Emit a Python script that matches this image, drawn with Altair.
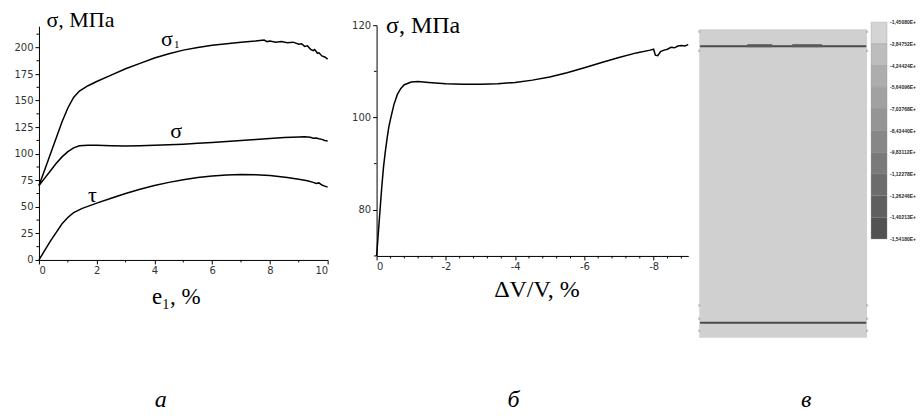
import altair as alt
import pandas as pd

# ---------------- panel a: sigma_1, sigma, tau vs e1 ----------------
s1_e = [0, 0.2, 0.4, 0.6, 0.8, 1.0, 1.2, 1.4, 1.7, 2.0, 2.5, 3.0, 3.5, 4.0, 4.5, 5.0, 5.5,
        6.0, 6.5, 7.0, 7.5, 7.8, 7.9, 8.0, 8.2, 8.4, 8.6, 8.8, 9.0, 9.1, 9.2, 9.3, 9.4,
        9.5, 9.55, 9.65, 9.7, 9.8, 9.9, 10.0]
s1_v = [70, 85, 100, 115, 130, 143, 153, 159, 164, 168, 174, 180, 185, 190, 194, 197.5, 200,
        202, 203.5, 205, 206, 207, 205.5, 206, 205, 205.5, 204.5, 205, 203, 203.5, 201, 201.5,
        198.5, 197, 198, 194.5, 195, 192, 191, 189]

sg_e = [0, 0.2, 0.4, 0.6, 0.8, 1.0, 1.2, 1.4, 1.7, 2.0, 2.5, 3.0, 3.5, 4.0, 4.5, 5.0, 5.5,
        6.0, 6.5, 7.0, 7.5, 8.0, 8.5, 9.0, 9.2, 9.4, 9.5, 9.6, 9.7, 9.8, 9.9, 10.0]
sg_v = [70, 77, 84, 91, 97, 102, 105.5, 107.5, 108, 108, 107.5, 107.3, 107.5, 108, 108.5, 109,
        109.8, 110.5, 111.5, 112.5, 113.3, 114.2, 115.2, 115.8, 116, 115.5, 114.5, 114.8, 114,
        113.5, 112.5, 112]

tau_e = [0, 0.2, 0.4, 0.6, 0.8, 1.0, 1.2, 1.5, 2.0, 2.5, 3.0, 3.5, 4.0, 4.5, 5.0, 5.5, 6.0,
         6.5, 7.0, 7.5, 8.0, 8.3, 8.6, 9.0, 9.3, 9.5, 9.6, 9.7, 9.8, 9.9, 10.0]
tau_v = [0, 9, 18, 26, 34, 40, 44.5, 48.5, 53.5, 58, 62.5, 66.5, 70, 73, 75.5, 77.5, 79,
         80, 80.5, 80.3, 79.5, 78.5, 77.5, 76, 74.5, 73, 72, 72.5, 70.5, 69.5, 68.5]

a_x_ticks = [0, 2, 4, 6, 8, 10]
a_x_minor = [1, 3, 5, 7, 9]
a_y_ticks = [0, 25, 50, 75, 100, 125, 150, 175, 200]
a_y_minor = [12.5, 37.5, 62.5, 87.5, 112.5, 137.5, 162.5, 187.5, 212.5]

curve_label_text = ["σ", "σ", "τ"]
curve_label_e = [4.43, 4.75, 1.85]
curve_label_s = [208, 121, 61]
sub_label_text = ["1"]
sub_label_e = [4.43]
sub_label_s = [208]

# ---------------- panel б: sigma vs dV/V ----------------
dv_x = [0, -0.05, -0.1, -0.15, -0.2, -0.25, -0.3, -0.35, -0.4, -0.5, -0.6, -0.7, -0.8, -1.0,
        -1.2, -1.5, -2.0, -2.5, -3.0, -3.5, -4.0, -4.5, -5.0, -5.5, -6.0, -6.5, -7.0, -7.5,
        -7.9, -8.0, -8.05, -8.12, -8.2, -8.3, -8.4, -8.5, -8.6, -8.7, -8.8, -8.9, -9.0]
dv_s = [70, 75, 80, 85, 89.3, 92.5, 95.3, 97.8, 99.6, 102.8, 105, 106.3, 107.1, 107.7,
        107.8, 107.6, 107.3, 107.2, 107.2, 107.3, 107.6, 108.1, 108.8, 109.7, 110.8, 111.9,
        113.0, 114.0, 114.6, 114.8, 113.5, 113.4, 114.3, 114.6, 114.8, 115.2, 115.1, 115.5,
        115.6, 115.5, 115.8]
b_x_ticks = [0, -2, -4, -6, -8]
b_x_minor = [-0.4, -0.8, -1.2, -1.6, -2.4, -2.8, -3.2, -3.6, -4.4, -4.8, -5.2, -5.6,
             -6.4, -6.8, -7.2, -7.6, -8.4, -8.8]
b_y_ticks = [80, 100, 120]
b_y_minor = [70, 90, 110]

# ---------------- panel в: FE specimen with stress legend ----------------
specimen_x = [0, 100]
specimen_y = [0, 100]
grip_lines_y = [94.5, 4.9]
grip_thick_x0 = [28.6, 55.4]
grip_thick_x1 = [43.5, 73.2]
node_y = [99.2, 93.0, 10.5, 6.2, 2.3]
node_x = [0, 100]
cb_labels = ["-1,45080E+", "-2,84752E+", "-4,24424E+", "-5,64096E+", "-7,03768E+",
             "-8,43440E+", "-9,83112E+", "-1,12278E+", "-1,26246E+", "-1,40213E+",
             "-1,54180E+"]
band_colors = ["#d4d4d4", "#bdbdbd", "#adadad", "#a1a1a1", "#959595", "#878787",
               "#7a7a7a", "#6c6c6c", "#5f5f5f", "#525252"]

panel_letters = ["а", "б", "в"]

SERIF = "Liberation Serif"
TICKF = "DejaVu Sans"

# ---------------- build panel a ----------------
df_a = pd.concat([
    pd.DataFrame({"e": s1_e, "s": s1_v, "c": "s1", "i": range(len(s1_e))}),
    pd.DataFrame({"e": sg_e, "s": sg_v, "c": "s", "i": range(len(sg_e))}),
    pd.DataFrame({"e": tau_e, "s": tau_v, "c": "t", "i": range(len(tau_e))}),
])

a_xscale = alt.Scale(domain=[0, 10], range=[0, 289], nice=False, zero=False)
a_yscale = alt.Scale(domain=[0, 220], range=[252, 18], nice=False, zero=False)
a_xaxis = alt.Axis(values=a_x_ticks, grid=False, title="e₁, %", titleFont=SERIF,
                   titleFontSize=23, titleFontWeight="normal", titleX=137, titleY=37,
                   titleBaseline="middle", titleColor="black")
a_yaxis = alt.Axis(values=a_y_ticks, grid=False, title="σ, МПа", titleAngle=0, titleFont=SERIF,
                   titleFontSize=22, titleFontWeight="normal", titleX=7, titleY=11,
                   titleAlign="left", titleBaseline="middle", titleColor="black")

a_lines = alt.Chart(df_a).mark_line(color="black", strokeWidth=1.5).encode(
    x=alt.X("e:Q", scale=a_xscale, axis=a_xaxis),
    y=alt.Y("s:Q", scale=a_yscale, axis=a_yaxis),
    detail="c:N", order="i:Q")

a_ymin = alt.Chart(pd.DataFrame({"s": a_y_minor})).mark_rule(color="black").encode(
    y=alt.Y("s:Q", scale=a_yscale, axis=a_yaxis), x=alt.value(-2.5), x2=alt.value(0))
a_xmin = alt.Chart(pd.DataFrame({"e": a_x_minor})).mark_rule(color="black").encode(
    x=alt.X("e:Q", scale=a_xscale, axis=a_xaxis), y=alt.value(252), y2=alt.value(254.5))

a_lab = alt.Chart(pd.DataFrame({"t": curve_label_text, "e": curve_label_e, "s": curve_label_s})
                  ).mark_text(font=SERIF, fontSize=22, baseline="middle", color="black").encode(
    x=alt.X("e:Q", scale=a_xscale, axis=a_xaxis), y=alt.Y("s:Q", scale=a_yscale, axis=a_yaxis),
    text="t:N")
a_sub = alt.Chart(pd.DataFrame({"t": sub_label_text, "e": sub_label_e, "s": sub_label_s})
                  ).mark_text(font=SERIF, fontSize=11, baseline="middle", color="black",
                              dx=10, dy=6).encode(
    x=alt.X("e:Q", scale=a_xscale, axis=a_xaxis), y=alt.Y("s:Q", scale=a_yscale, axis=a_yaxis),
    text="t:N")
a_letter = alt.Chart(pd.DataFrame({"t": [panel_letters[0]]})).mark_text(
    font=SERIF, fontSize=24, fontStyle="italic", baseline="middle", color="black").encode(
    text="t:N", x=alt.value(122), y=alt.value(392))

panel_a = alt.layer(a_lines, a_ymin, a_xmin, a_lab, a_sub, a_letter).properties(
    width=327, height=252)

# ---------------- build panel б ----------------
df_b = pd.DataFrame({"v": dv_x, "s": dv_s, "i": range(len(dv_x))})
b_xscale = alt.Scale(domain=[0, -9], range=[0, 312], nice=False, zero=False)
b_yscale = alt.Scale(domain=[70, 120], range=[248, 17], nice=False, zero=False)
b_xaxis = alt.Axis(values=b_x_ticks, grid=False, title="ΔV/V, %", titleFont=SERIF,
                   titleFontSize=24, titleFontWeight="normal", titleX=160, titleY=34,
                   titleBaseline="middle", titleColor="black",
                   labelExpr="datum.value == 0 ? '0' : '-' + abs(datum.value)")
b_yaxis = alt.Axis(values=b_y_ticks, grid=False, title="σ, МПа", titleAngle=0, titleFont=SERIF,
                   titleFontSize=24, titleFontWeight="normal", titleX=9, titleY=17,
                   titleAlign="left", titleBaseline="middle", titleColor="black")

b_line = alt.Chart(df_b).mark_line(color="black", strokeWidth=1.5).encode(
    x=alt.X("v:Q", scale=b_xscale, axis=b_xaxis),
    y=alt.Y("s:Q", scale=b_yscale, axis=b_yaxis), order="i:Q")
b_ymin = alt.Chart(pd.DataFrame({"s": b_y_minor})).mark_rule(color="black").encode(
    y=alt.Y("s:Q", scale=b_yscale, axis=b_yaxis), x=alt.value(-2.5), x2=alt.value(0))
b_xmin = alt.Chart(pd.DataFrame({"v": b_x_minor})).mark_rule(color="black").encode(
    x=alt.X("v:Q", scale=b_xscale, axis=b_xaxis), y=alt.value(248), y2=alt.value(250.5))
b_letter = alt.Chart(pd.DataFrame({"t": [panel_letters[1]]})).mark_text(
    font=SERIF, fontSize=24, fontStyle="italic", baseline="middle", color="black").encode(
    text="t:N", x=alt.value(137), y=alt.value(392))

panel_b = alt.layer(b_line, b_ymin, b_xmin, b_letter).properties(width=312, height=248)

# ---------------- build panel в ----------------
sx = alt.Scale(domain=[0, 100], range=[0, 168], nice=False, zero=False)
sy = alt.Scale(domain=[0, 100], range=[330, 21], nice=False, zero=False)

spec = alt.Chart(pd.DataFrame({"x0": [specimen_x[0]], "x1": [specimen_x[1]],
                               "y0": [specimen_y[0]], "y1": [specimen_y[1]]})
                 ).mark_rect(color="#d0d0d0").encode(
    x=alt.X("x0:Q", scale=sx, axis=None), x2="x1:Q",
    y=alt.Y("y0:Q", scale=sy, axis=None), y2="y1:Q")
grips = alt.Chart(pd.DataFrame({"y": grip_lines_y, "x0": [0.5, 0.5], "x1": [99.5, 99.5]})
                  ).mark_rule(color="#4a4a4a", strokeWidth=2).encode(
    x=alt.X("x0:Q", scale=sx, axis=None), x2="x1:Q",
    y=alt.Y("y:Q", scale=sy, axis=None))
grip_thick = alt.Chart(pd.DataFrame({"x0": grip_thick_x0, "x1": grip_thick_x1,
                                     "y": [grip_lines_y[0]] * 2})
                       ).mark_rule(color="#5a5a5a", strokeWidth=3, yOffset=-0.5).encode(
    x=alt.X("x0:Q", scale=sx, axis=None), x2="x1:Q",
    y=alt.Y("y:Q", scale=sy, axis=None))
nodes_df = pd.DataFrame([(nx, ny) for nx in node_x for ny in node_y], columns=["x", "y"])
nodes = alt.Chart(nodes_df).mark_point(filled=True, size=5, color="#a8a8a8",
                                       shape="square").encode(
    x=alt.X("x:Q", scale=sx, axis=None), y=alt.Y("y:Q", scale=sy, axis=None))

spec_layer = alt.layer(spec, grips, grip_thick, nodes)

cbx = alt.Scale(domain=[0, 1], range=[172, 188], nice=False, zero=False)
cby = alt.Scale(domain=[0, 10], range=[14, 231], nice=False, zero=False)
bands_df = pd.DataFrame({"b": cb_labels[:-1], "i0": range(10), "i1": range(1, 11),
                         "x0": [0] * 10, "x1": [1] * 10})
bands = alt.Chart(bands_df).mark_rect(stroke="#8a8a8a", strokeWidth=0.3).encode(
    x=alt.X("x0:Q", scale=cbx, axis=None), x2="x1:Q",
    y=alt.Y("i0:Q", scale=cby, axis=None), y2="i1:Q",
    color=alt.Color("b:N", scale=alt.Scale(domain=cb_labels[:-1], range=band_colors),
                    legend=None))
labels_df = pd.DataFrame({"t": cb_labels, "i": range(11), "x": [1] * 11})
cb_text = alt.Chart(labels_df).mark_text(
    font="Liberation Sans", fontSize=5, fontWeight="bold", align="left",
    baseline="middle", dx=3, color="#2a2a2a").encode(
    x=alt.X("x:Q", scale=cbx, axis=None), y=alt.Y("i:Q", scale=cby, axis=None), text="t:N")
cb_layer = alt.layer(bands, cb_text)

c_letter = alt.Chart(pd.DataFrame({"t": [panel_letters[2]]})).mark_text(
    font=SERIF, fontSize=24, fontStyle="italic", baseline="middle", color="black").encode(
    text="t:N", x=alt.value(107), y=alt.value(392))

panel_c = alt.layer(spec_layer, cb_layer, c_letter).resolve_scale(
    x="independent", y="independent").properties(width=217, height=330)

chart = alt.hconcat(panel_a, panel_b, panel_c, spacing=11, bounds="flush").properties(
    padding={"left": 5, "top": 0, "right": 0, "bottom": 5},
    background="white"
).configure_view(stroke=None).configure_axis(
    domainColor="black", tickColor="black", tickSize=4, labelFont=TICKF, labelFontSize=10,
    labelColor="#333333", grid=False, domainWidth=1, tickWidth=1, labelPadding=2
)

chart.save("out.html", embed_options={"renderer": "svg", "actions": False})
